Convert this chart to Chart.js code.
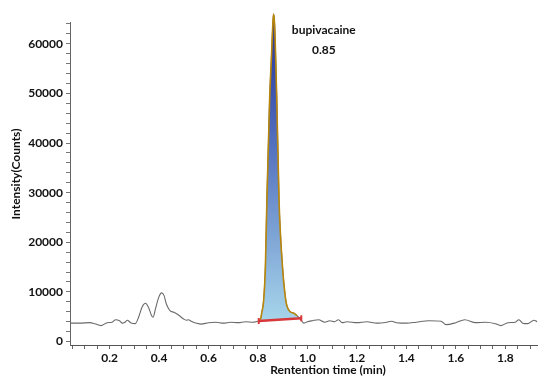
<!DOCTYPE html>
<html>
<head>
<meta charset="utf-8">
<script src="https://cdn.jsdelivr.net/npm/chart.js@4"></script>
<style>
    body { margin: 0; background: #ffffff; }
    canvas { display: block; }
</style>
</head>
<body>
<canvas id="chromChart" width="543" height="376"></canvas>
<script>
    // Chromatogram trace (retention time in min, intensity in counts)
    const traceTimes = [0.044, 0.08, 0.12, 0.14, 0.165, 0.19, 0.21, 0.225, 0.24, 0.252, 0.262, 0.272, 0.285, 0.304,
        0.318, 0.332, 0.345, 0.358, 0.37, 0.376, 0.385, 0.398, 0.41, 0.42, 0.43, 0.445, 0.46, 0.471, 0.485, 0.498,
        0.51, 0.518, 0.53, 0.551, 0.57, 0.6, 0.63, 0.66, 0.69, 0.72, 0.75, 0.78, 0.80,
        0.808, 0.812, 0.815, 0.823, 0.830, 0.836, 0.847, 0.855, 0.860, 0.863, 0.867, 0.871, 0.876, 0.885, 0.899,
        0.912, 0.918, 0.930, 0.945, 0.958,
        0.975, 0.985, 1.0, 1.02, 1.045, 1.07, 1.09, 1.11, 1.125, 1.14, 1.16, 1.2, 1.24, 1.28, 1.32, 1.34, 1.36,
        1.4, 1.44, 1.49, 1.54, 1.56, 1.6, 1.636, 1.68, 1.72, 1.76, 1.782, 1.81, 1.84, 1.855, 1.87, 1.89, 1.916, 1.928];
    const traceCounts = [3700, 3700, 3800, 3600, 3200, 3800, 3900, 4400, 4200, 3700, 3900, 4300, 3800, 3600,
        5000, 7000, 7700, 6800, 5200, 4900, 6500, 8800, 9800, 9300, 7500, 6200, 5900, 5600, 5100, 4600,
        4300, 4400, 4100, 3700, 3500, 3800, 3900, 3700, 3900, 3800, 4000, 3900, 4100,
        4200, 4800, 5700, 8300, 15100, 28500, 48700, 58000, 64000, 66000, 64000, 58000, 48700, 28500, 15100,
        8400, 7000, 6000, 5700, 5200,
        4300, 3700, 4000, 4200, 4400, 3900, 4200, 4000, 4400, 3800, 4000, 3800, 4000, 3700, 3900, 4100, 3800,
        3700, 3900, 4200, 4100, 3400, 3800, 4400, 3800, 3900, 3600, 3200, 3800, 3900, 4400, 3700, 3600, 4300, 4000];

    // Integrated bupivacaine peak
    const peakTimes = [0.808, 0.812, 0.815, 0.823, 0.830, 0.836, 0.847, 0.855, 0.860, 0.863, 0.867, 0.871,
        0.876, 0.885, 0.899, 0.912, 0.918, 0.930, 0.945, 0.958];
    const peakCounts = [4200, 4800, 5700, 8300, 15100, 28500, 48700, 58000, 64000, 66000, 64000, 58000,
        48700, 28500, 15100, 8400, 7000, 6000, 5700, 5200];

    // Peak integration baseline
    const baselineTimes = [0.803, 0.975];
    const baselineCounts = [4130, 4680];

    // Labelled ticks
    const xTickLabels = [0.2, 0.4, 0.6, 0.8, 1.0, 1.2, 1.4, 1.6, 1.8];
    const yTickLabels = [0, 10000, 20000, 30000, 40000, 50000, 60000];

    const peakName = 'bupivacaine';
    const peakRt = '0.85';

    const FONT = 'Lato';

    function toPoints(xs, ys) {
        return xs.map((x, i) => ({ x: x, y: ys[i] }));
    }

    // minor tick marks between the labelled ones
    const xMinorTicks = [];
    for (let k = 1; k <= 38; k++) xMinorTicks.push(Math.round(k * 5) / 100);
    const yMinorTicks = [];
    for (let v = 0; v <= 64000; v += 2000) yMinorTicks.push(v);

    function peakGradient(context) {
        const chart = context.chart;
        if (!chart.chartArea) return '#7fa8d8';
        const yScale = chart.scales.y;
        const top = yScale.getPixelForValue(66000);
        const bottom = yScale.getPixelForValue(4500);
        const g = chart.ctx.createLinearGradient(0, top, 0, bottom);
        g.addColorStop(0, '#22309a');
        g.addColorStop(0.45, '#5674c0');
        g.addColorStop(1, '#a6d4ea');
        return g;
    }

    // Axis titles and peak label
    const textPlugin = {
        id: 'chromText',
        afterDraw(chart) {
            const ctx = chart.ctx;
            const xs = chart.scales.x;
            const ys = chart.scales.y;
            ctx.save();
            ctx.fillStyle = '#111111';
            ctx.textAlign = 'center';
            ctx.textBaseline = 'middle';
            ctx.font = 'bold 12px ' + FONT;
            const lx = xs.getPixelForValue(1.066);
            ctx.fillText(peakName, lx, ys.getPixelForValue(62800));
            ctx.fillText(peakRt, lx, ys.getPixelForValue(58800));

            ctx.font = 'bold 12px ' + FONT;
            ctx.fillText('Rentention time (min)', 328, 370);
            ctx.translate(16, 174);
            ctx.rotate(-Math.PI / 2);
            ctx.fillText('Intensity(Counts)', 0, 0);
            ctx.restore();
        }
    };

    const ctx = document.getElementById('chromChart').getContext('2d');
    const chromChart = new Chart(ctx, {
        type: 'line',
        data: {
            datasets: [
                {
                    label: 'Baseline',
                    data: toPoints(baselineTimes, baselineCounts),
                    borderColor: '#d8383a',
                    borderWidth: 2.5,
                    pointStyle: 'line',
                    rotation: 90,
                    pointRadius: 3,
                    pointBorderColor: '#d8383a',
                    pointBorderWidth: 2,
                    fill: false
                },
                {
                    label: 'Peak',
                    data: toPoints(peakTimes, peakCounts),
                    borderColor: '#b8860b',
                    borderWidth: 1.6,
                    backgroundColor: peakGradient,
                    fill: 0,
                    pointRadius: 0,
                    cubicInterpolationMode: 'monotone',
                    clip: false
                },
                {
                    label: 'Trace',
                    data: toPoints(traceTimes, traceCounts),
                    borderColor: '#6a6a6a',
                    borderWidth: 1.1,
                    pointRadius: 0,
                    cubicInterpolationMode: 'monotone',
                    fill: false,
                    clip: false
                }
            ]
        },
        options: {
            responsive: false,
            animation: false,
            devicePixelRatio: 1,
            layout: { padding: { top: 22, right: 0, left: 0, bottom: 0 } },
            plugins: {
                legend: { display: false },
                tooltip: { enabled: false }
            },
            scales: {
                x: {
                    type: 'linear',
                    min: 0.04,
                    max: 1.928,
                    afterFit: scale => { scale.height = 31; },
                    afterBuildTicks: scale => { scale.ticks = xMinorTicks.map(v => ({ value: v })); },
                    border: { color: '#555555', width: 1 },
                    grid: { drawOnChartArea: false, tickLength: 4, tickColor: '#666666' },
                    ticks: {
                        autoSkip: false,
                        maxRotation: 0,
                        padding: 2,
                        color: '#111111',
                        font: { family: FONT, size: 12, weight: 'bold' },
                        callback: value => (xTickLabels.some(t => Math.abs(t - value) < 1e-6) ? value.toFixed(1) : '')
                    }
                },
                y: {
                    type: 'linear',
                    min: -700,
                    max: 64400,
                    afterFit: scale => { scale.width = 70; },
                    afterBuildTicks: scale => { scale.ticks = yMinorTicks.map(v => ({ value: v })); },
                    border: { color: '#666666', width: 1 },
                    grid: { drawOnChartArea: false, tickLength: 4, tickColor: '#777777' },
                    ticks: {
                        autoSkip: false,
                        padding: 3,
                        color: '#111111',
                        font: { family: FONT, size: 12, weight: 'bold' },
                        callback: value => (yTickLabels.includes(value) ? String(value) : '')
                    }
                }
            }
        },
        plugins: [textPlugin]
    });
</script>
</body>
</html>
